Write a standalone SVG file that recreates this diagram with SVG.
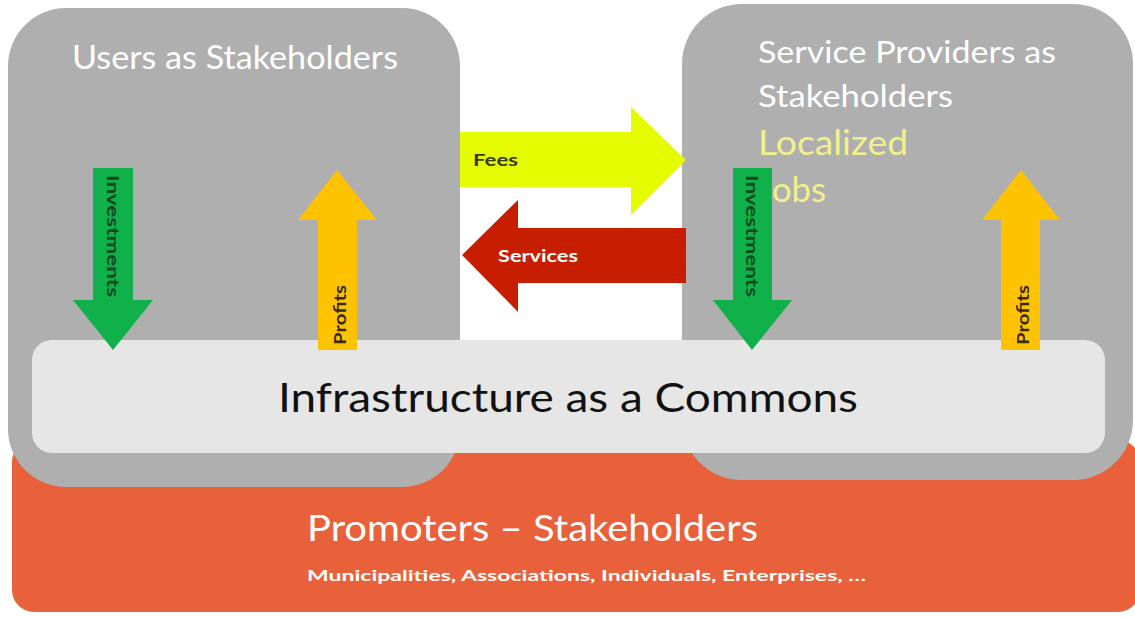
<svg xmlns="http://www.w3.org/2000/svg" width="1135" height="617" viewBox="0 0 1135 617">
<style>
.t{font-family:Lato,"Open Sans","Liberation Sans",sans-serif}
.w{fill:#ffffff}
.lab{font-size:17px;font-weight:bold}
</style>
<rect width="1135" height="617" fill="#ffffff"/>
<g id="promoters">
<rect x="12" y="440" width="1128" height="172" rx="22" fill="#e8613a"/>
<text class="t w" x="307" y="541" font-size="36" textLength="451" lengthAdjust="spacingAndGlyphs">Promoters – Stakeholders</text>
<text class="t w" x="307" y="581" font-size="16" font-weight="bold" textLength="559" lengthAdjust="spacingAndGlyphs">Municipalities, Associations, Individuals, Enterprises, …</text>
</g>
<g id="users">
<rect x="8" y="8" width="452" height="479" rx="58" fill="#afafaf"/>
<text class="t w" x="72" y="69" font-size="32" textLength="326" lengthAdjust="spacingAndGlyphs">Users as Stakeholders</text>
</g>
<g id="providers">
<rect x="682" y="4" width="451" height="476" rx="60" fill="#afafaf"/>
<text class="t w" x="758" y="63" font-size="31" textLength="298" lengthAdjust="spacingAndGlyphs">Service Providers as</text>
<text class="t w" x="758" y="107" font-size="31" textLength="195" lengthAdjust="spacingAndGlyphs">Stakeholders</text>
<text class="t" x="758" y="155" font-size="35" fill="#f2f08a" textLength="150" lengthAdjust="spacingAndGlyphs">Localized</text>
<text class="t" x="758" y="202" font-size="35" fill="#f2f08a" textLength="68" lengthAdjust="spacingAndGlyphs">Jobs</text>
</g>
<g id="infrastructure">
<rect x="32" y="340" width="1073" height="113" rx="20" fill="#e6e6e6"/>
<text class="t" x="568" y="412" font-size="40" fill="#111111" text-anchor="middle" textLength="580" lengthAdjust="spacingAndGlyphs">Infrastructure as a Commons</text>
</g>
<g id="connectors">
<g id="fees">
<path d="M460,132 H631 V107 L686,160 L631,215 V187 H460 Z" fill="#e4fb00"/>
<text class="t lab" x="473" y="166" fill="#3a3a00" textLength="45" lengthAdjust="spacingAndGlyphs">Fees</text>
</g>
<g id="services">
<path d="M686,228 H518 V200 L462,255 L518,312 V283 H686 Z" fill="#c81e00"/>
<text class="t lab w" x="498" y="262" textLength="80" lengthAdjust="spacingAndGlyphs">Services</text>
</g>
<g id="users-investments">
<path d="M93,168 H133 V300 H153 L113,350 L73,300 H93 Z" fill="#10b04a"/>
<text class="t lab" transform="translate(113,236) rotate(90)" text-anchor="middle" dominant-baseline="central" fill="#0b4a1e" textLength="122" lengthAdjust="spacingAndGlyphs">Investments</text>
</g>
<g id="users-profits">
<path d="M318,350 V220 H298 L337,170 L377,220 H357 V350 Z" fill="#fdc300"/>
<text class="t lab" transform="translate(339,315) rotate(-90)" text-anchor="middle" dominant-baseline="central" fill="#3a2a00" textLength="60" lengthAdjust="spacingAndGlyphs">Profits</text>
</g>
<g id="providers-investments">
<path d="M733,168 H772 V300 H792 L752,350 L713,300 H733 Z" fill="#10b04a"/>
<text class="t lab" transform="translate(752,236) rotate(90)" text-anchor="middle" dominant-baseline="central" fill="#0b4a1e" textLength="122" lengthAdjust="spacingAndGlyphs">Investments</text>
</g>
<g id="providers-profits">
<path d="M1001,350 V220 H982 L1021,170 L1060,220 H1040 V350 Z" fill="#fdc300"/>
<text class="t lab" transform="translate(1022,315) rotate(-90)" text-anchor="middle" dominant-baseline="central" fill="#3a2a00" textLength="60" lengthAdjust="spacingAndGlyphs">Profits</text>
</g>
</g>
</svg>
